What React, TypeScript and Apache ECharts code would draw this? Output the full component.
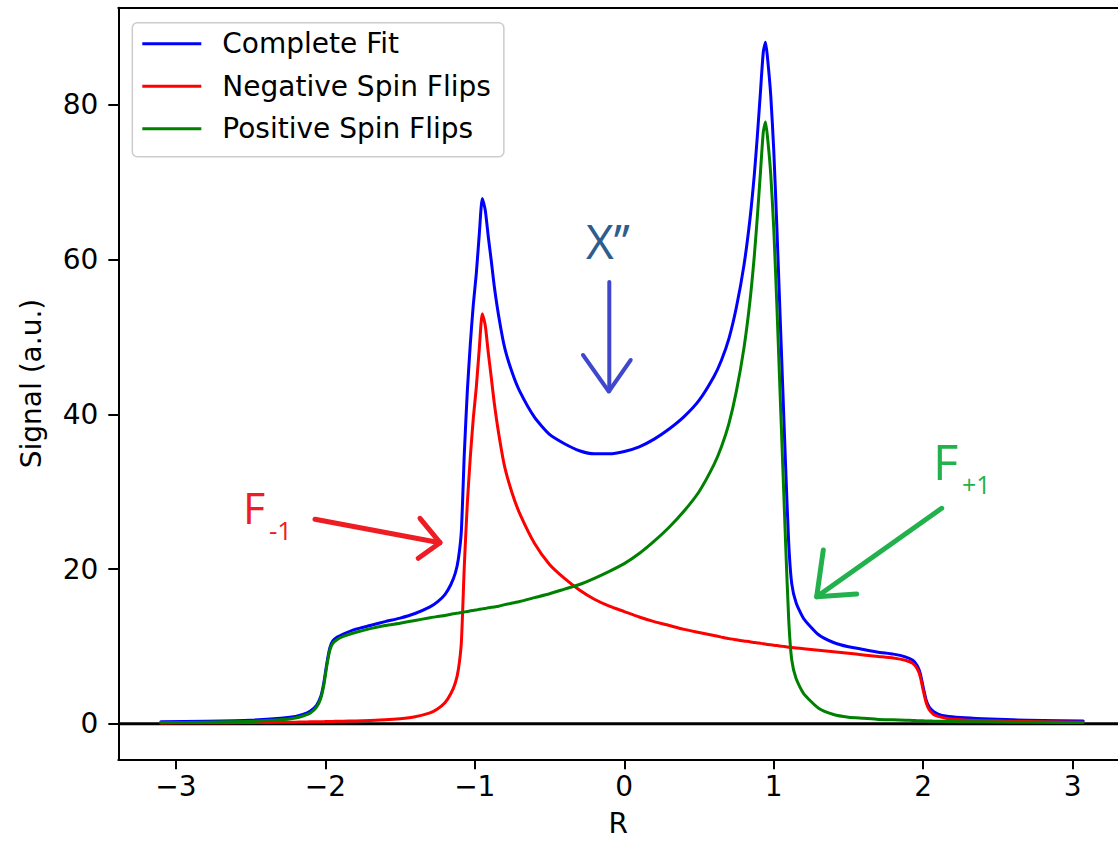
import React, { useEffect, useRef } from "react";
import * as echarts from "echarts";

// Sample positions along R, shared by the three curves
const rValues = [
  -3.1, -2.8, -2.5, -2.3, -2.2, -2.15, -2.1, -2.06, -2.03, -2.01,
  -1.99, -1.97, -1.95, -1.92, -1.88, -1.8, -1.7, -1.6, -1.5, -1.4,
  -1.3, -1.25, -1.2, -1.16, -1.13, -1.11, -1.09, -1.07, -1.05, -1.03,
  -1.01, -0.99, -0.97, -0.95, -0.93, -0.91, -0.89, -0.87, -0.84, -0.8,
  -0.75, -0.7, -0.6, -0.5, -0.4, -0.3, -0.2, -0.1, 0, 0.1,
  0.2, 0.3, 0.4, 0.5, 0.6, 0.65, 0.7, 0.75, 0.8, 0.84,
  0.87, 0.89, 0.91, 0.93, 0.945, 0.96, 0.98, 1.0, 1.02, 1.04,
  1.06, 1.08, 1.1, 1.12, 1.15, 1.2, 1.3, 1.4, 1.5, 1.6,
  1.7, 1.8, 1.88, 1.93, 1.96, 1.98, 2.0, 2.02, 2.04, 2.07,
  2.1, 2.15, 2.25, 2.4, 2.6, 2.8, 3.07,
];

const negativeSpinFlips = [
  0.1, 0.12, 0.15, 0.18, 0.2, 0.22, 0.24, 0.25, 0.26, 0.27,
  0.28, 0.29, 0.3, 0.31, 0.33, 0.36, 0.42, 0.5, 0.65, 0.9,
  1.4, 1.9, 2.7, 3.9, 5.3, 7.0, 10.5, 20.5, 28.5, 34.5,
  39.5, 43.5, 48.5, 53.0, 51.5, 48.0, 44.8, 41.5, 37.5, 33.2,
  29.8, 27.2, 23.3, 20.6, 18.8, 17.3, 16.1, 15.2, 14.5, 13.8,
  13.2, 12.7, 12.2, 11.8, 11.4, 11.2, 11.0, 10.85, 10.7, 10.6,
  10.5, 10.45, 10.4, 10.35, 10.3, 10.25, 10.2, 10.15, 10.1, 10.05,
  10.0, 9.95, 9.9, 9.85, 9.8, 9.7, 9.5, 9.3, 9.1, 8.9,
  8.7, 8.5, 8.2, 7.8, 7.1, 6.1, 4.3, 2.7, 1.8, 1.2,
  0.95, 0.72, 0.52, 0.4, 0.3, 0.25, 0.2,
];

const positiveSpinFlips = [
  0.15, 0.2, 0.3, 0.5, 0.75, 1.0, 1.4, 2.1, 3.3, 5.0,
  7.5, 9.5, 10.4, 10.9, 11.3, 11.8, 12.3, 12.7, 13.0, 13.35,
  13.7, 13.85, 14.0, 14.15, 14.25, 14.3, 14.4, 14.45, 14.5, 14.6,
  14.65, 14.7, 14.8, 14.85, 14.9, 15.0, 15.05, 15.1, 15.2, 15.4,
  15.6, 15.8, 16.3, 16.8, 17.4, 18.0, 18.8, 19.7, 20.7, 22.0,
  23.6, 25.4, 27.5, 30.0, 33.5, 35.8, 38.8, 43.0, 48.5, 54.5,
  60.5, 65.5, 71.0, 76.5, 77.8, 75.5, 71.0, 64.0, 54.5, 44.0,
  33.5, 23.0, 13.5, 8.3, 5.8, 3.9, 2.0, 1.2, 0.85, 0.7,
  0.55, 0.5, 0.45, 0.42, 0.4, 0.38, 0.37, 0.36, 0.35, 0.33,
  0.32, 0.3, 0.27, 0.24, 0.2, 0.18, 0.15,
];

const completeFit = [
  0.25, 0.32, 0.45, 0.7, 0.95, 1.2, 1.65, 2.35, 3.55, 5.3,
  7.8, 9.8, 10.7, 11.2, 11.6, 12.2, 12.7, 13.2, 13.65, 14.25,
  15.1, 15.75, 16.7, 18.0, 19.5, 21.3, 24.9, 35.0, 43.0, 49.1,
  54.2, 58.2, 63.3, 67.9, 66.4, 63.0, 59.9, 56.6, 52.7, 48.6,
  45.4, 43.0, 39.6, 37.4, 36.2, 35.3, 34.9, 34.9, 35.2, 35.8,
  36.8, 38.1, 39.7, 41.8, 44.9, 47.0, 49.8, 53.85, 59.2, 65.1,
  71.0, 75.95, 81.4, 86.85, 88.1, 85.75, 81.2, 74.15, 64.6, 54.05,
  43.5, 32.95, 23.4, 18.15, 15.6, 13.6, 11.5, 10.5, 9.95, 9.6,
  9.25, 9.0, 8.65, 8.2, 7.5, 6.5, 4.7, 3.05, 2.15, 1.55,
  1.25, 1.0, 0.8, 0.64, 0.5, 0.43, 0.35,
];

const seriesNames = ["Complete Fit", "Negative Spin Flips", "Positive Spin Flips"];
const seriesColors = ["#0000ff", "#ff0000", "#008000"];
const xTickValues = [-3, -2, -1, 0, 1, 2, 3];
const yTickValues = [0, 20, 40, 60, 80];

const X_MIN = -3.385;
const X_MAX = 3.303;
const Y_MIN = -4.6;
const Y_MAX = 92.58;

const FONT = "DejaVu Sans";
const FONT_SIZE = 28;

const pairs = (ys: number[]) => rValues.map((x, i) => [x, ys[i]]);

const minusFormat = (v: number) => (v < 0 ? "\u2212" + Math.abs(v) : String(v));

function curve(name: string, color: string, ys: number[], z: number) {
  return {
    name,
    type: "line",
    xAxisIndex: 0,
    data: pairs(ys),
    symbol: "none",
    smooth: 0.2,
    z,
    lineStyle: { color, width: 3, cap: "round", join: "round" },
    itemStyle: { color },
    emphasis: { disabled: true },
    silent: true,
  };
}

function arrow(shaft: number[][], head: number[][], color: string, width: number) {
  return [
    {
      type: "polyline",
      shape: { points: shaft },
      style: { stroke: color, lineWidth: width, lineCap: "round", fill: null },
      z: 100,
    },
    {
      type: "polyline",
      shape: { points: head },
      style: { stroke: color, lineWidth: width, lineCap: "round", lineJoin: "round", fill: null },
      z: 100,
    },
  ];
}

function label(text: string, x: number, y: number, size: number, color: string) {
  return {
    type: "text",
    x,
    y,
    z: 100,
    style: {
      text,
      fill: color,
      font: `${size}px "Open Sans", sans-serif`,
      align: "left",
      verticalAlign: "middle",
    },
  };
}

const axisCommon = {
  axisLine: { show: true, onZero: false, lineStyle: { color: "#000", width: 2 } },
  axisTick: { show: true, length: 10, lineStyle: { color: "#000", width: 2 } },
  splitLine: { show: false },
  nameTextStyle: { fontFamily: FONT, fontSize: FONT_SIZE, color: "#000" },
};

export default function App() {
  const ref = useRef<HTMLDivElement>(null);

  useEffect(() => {
    if (!ref.current) return;
    const chart = echarts.init(ref.current, undefined, { renderer: "svg" });

    const option: any = {
      animation: false,
      backgroundColor: "#ffffff",
      grid: {
        left: 118.3,
        top: 7.7,
        width: 999.7,
        height: 751.6,
        containLabel: false,
        outerBoundsMode: "none",
      },
      legend: {
        data: seriesNames,
        orient: "vertical",
        left: 132.3,
        top: 22.7,
        padding: [6, 13, 13, 10],
        itemWidth: 59,
        itemHeight: 3,
        itemGap: 12.5,
        icon: "rect",
        selectedMode: false,
        backgroundColor: "rgba(255,255,255,0.8)",
        borderColor: "#cccccc",
        borderWidth: 1.5,
        borderRadius: 5,
        textStyle: {
          fontFamily: FONT,
          fontSize: FONT_SIZE,
          color: "#000",
          lineHeight: 30,
          padding: [0, 0, 0, 16],
        },
      },
      xAxis: [
        {
          ...axisCommon,
          type: "value",
          min: X_MIN,
          max: X_MAX,
          name: "R",
          nameLocation: "middle",
          nameGap: 52,
          nameTextStyle: { ...axisCommon.nameTextStyle, lineHeight: 24 },
          axisTick: { ...axisCommon.axisTick, customValues: xTickValues },
          axisLabel: {
            customValues: xTickValues,
            formatter: minusFormat,
            fontFamily: FONT,
            fontSize: FONT_SIZE,
            color: "#000",
            margin: 13,
          },
        },
        {
          type: "value",
          position: "top",
          min: X_MIN,
          max: X_MAX,
          axisLine: { show: true, onZero: false, lineStyle: { color: "#000", width: 2 } },
          axisTick: { show: false },
          axisLabel: { show: false },
          splitLine: { show: false },
        },
      ],
      yAxis: {
        ...axisCommon,
        type: "value",
        min: Y_MIN,
        max: Y_MAX,
        name: "Signal (a.u.)",
        nameLocation: "middle",
        nameGap: 73,
        nameRotate: 90,
        axisTick: { ...axisCommon.axisTick, customValues: yTickValues },
        axisLabel: {
          customValues: yTickValues,
          formatter: minusFormat,
          fontFamily: FONT,
          fontSize: FONT_SIZE,
          color: "#000",
          margin: 20,
        },
      },
      series: [
        {
          name: "baseline",
          type: "line",
          xAxisIndex: 0,
          data: [
            [X_MIN, 0],
            [X_MAX, 0],
          ],
          symbol: "none",
          z: 1,
          lineStyle: { color: "#000", width: 3 },
          emphasis: { disabled: true },
          silent: true,
        },
        curve(seriesNames[0], seriesColors[0], completeFit, 2),
        curve(seriesNames[1], seriesColors[1], negativeSpinFlips, 3),
        curve(seriesNames[2], seriesColors[2], positiveSpinFlips, 4),
      ],
      graphic: [
        // χ'' marker above the central minimum
        label("X\u2019\u2019", 586, 240, 48, "#2d5d8e"),
        ...arrow(
          [
            [609.3, 282],
            [609.3, 391],
          ],
          [
            [583, 355],
            [608.8, 391.5],
            [630.7, 360],
          ],
          "#3f48cc",
          4
        ),
        // F-1 marker on the negative spin flip edge
        label("F", 243, 507.5, 43, "#ee1d23"),
        label("-1", 269, 530, 26, "#ee1d23"),
        ...arrow(
          [
            [315, 519.3],
            [440, 542.7],
          ],
          [
            [420, 518.3],
            [440, 542.7],
            [418.3, 558.3],
          ],
          "#ee1d23",
          5
        ),
        // F+1 marker on the positive spin flip edge
        label("F", 933, 460.5, 49, "#22b14c"),
        label("+1", 962, 484, 25, "#22b14c"),
        ...arrow(
          [
            [941.7, 508.3],
            [816.7, 596.7],
          ],
          [
            [823.3, 550],
            [816.7, 596.7],
            [856.7, 594],
          ],
          "#22b14c",
          5
        ),
      ],
    };

    chart.setOption(option);
    return () => chart.dispose();
  }, []);

  return (
    <div
      ref={ref}
      style={{ position: "absolute", left: 0, top: 0, width: 1118, height: 841, background: "#fff" }}
    />
  );
}
